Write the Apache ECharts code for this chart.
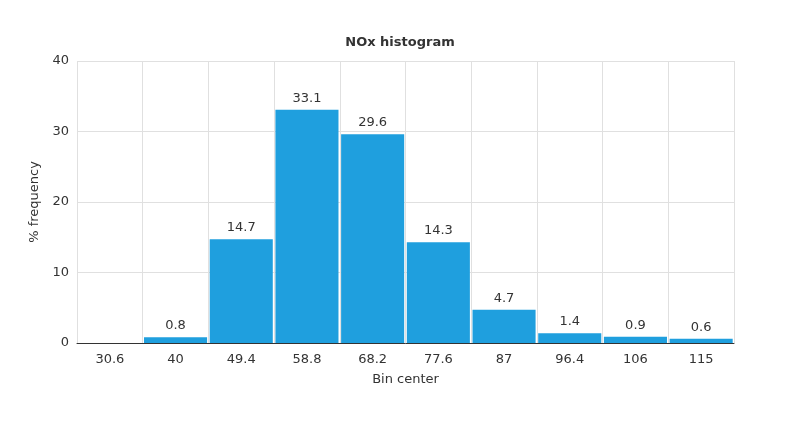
<!DOCTYPE html>
<html><head><meta charset="utf-8">
<script src="https://cdn.jsdelivr.net/npm/echarts@6/dist/echarts.min.js"></script>
<style>html,body{margin:0;padding:0;background:#fff}#c{width:800px;height:440px}</style>
</head><body><div id="c"></div>
<script>
const categories = ['30.6','40','49.4','58.8','68.2','77.6','87','96.4','106','115'];
const values = [0,0.8,14.7,33.1,29.6,14.3,4.7,1.4,0.9,0.6];
const yTicks = [0,10,20,30,40];
const font = 'DejaVu Sans, Verdana, sans-serif';
const chart = echarts.init(document.getElementById('c'));
chart.setOption({
  animation:false,
  title:{text:'NOx histogram',left:'center',top:31,textStyle:{fontFamily:font,fontSize:13,fontWeight:'bold',color:'#333'}},
  grid:{left:77,right:66,top:61,bottom:97},
  xAxis:{type:'category',data:categories,name:'Bin center',nameLocation:'middle',nameGap:30,
    nameTextStyle:{fontFamily:font,fontSize:13,color:'#333'},
    axisLine:{lineStyle:{color:'#333'}},axisTick:{show:false},
    axisLabel:{fontFamily:font,fontSize:13,color:'#333',margin:10},
    splitLine:{show:true,interval:0,lineStyle:{color:'#e0e0e0'}}},
  yAxis:{type:'value',min:0,max:40,interval:10,name:'% frequency',nameLocation:'middle',nameGap:35,
    nameTextStyle:{fontFamily:font,fontSize:13,color:'#333'},
    axisLine:{show:false},axisTick:{show:false},
    axisLabel:{fontFamily:font,fontSize:13,color:'#333'},
    splitLine:{lineStyle:{color:'#e0e0e0'}}},
  series:[{type:'bar',data:values,barCategoryGap:'4%',
    itemStyle:{color:'#1f9fde'},
    label:{show:true,position:'top',fontFamily:font,fontSize:13,color:'#333',
      formatter:p=>p.value?String(p.value):''}}]
});
</script></body></html>
